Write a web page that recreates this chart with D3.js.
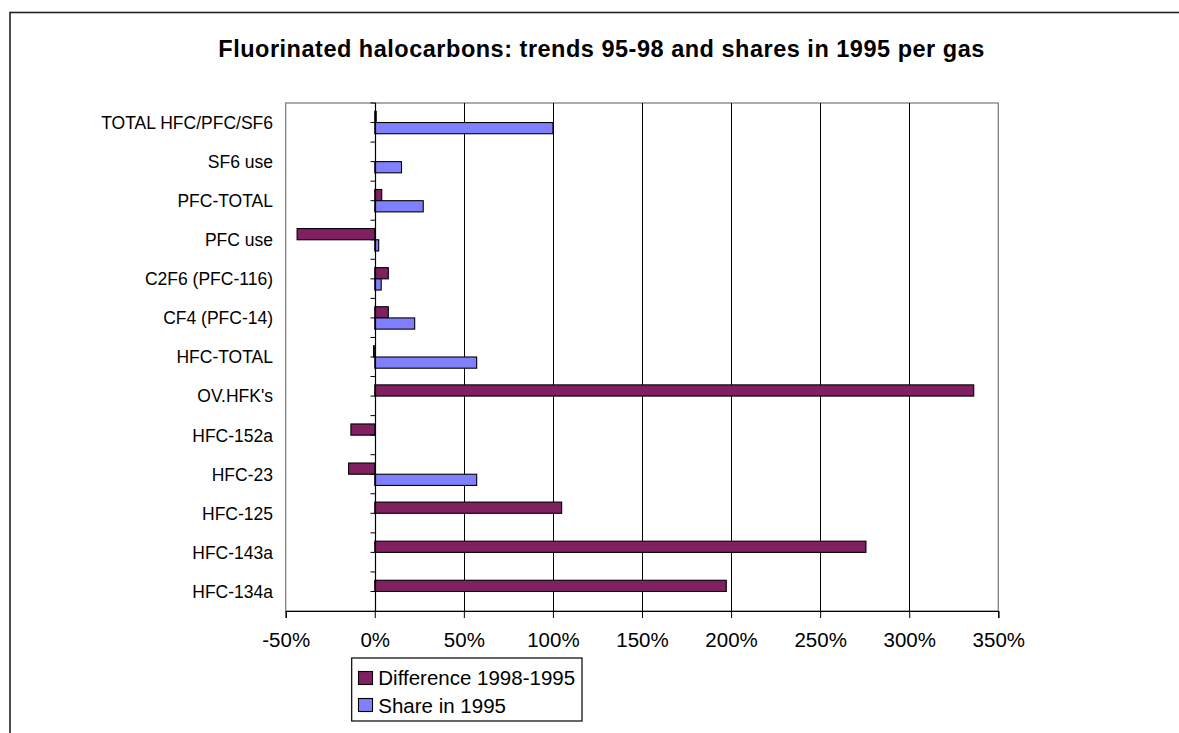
<!DOCTYPE html>
<html>
<head>
<meta charset="utf-8">
<script src="https://cdn.jsdelivr.net/npm/d3@7"></script>
<style>
  html, body { margin: 0; padding: 0; background: #fff; }
  svg { display: block; }
  text { font-family: "Liberation Sans", Arial, sans-serif; fill: #000; }
</style>
</head>
<body>
<svg id="chart" width="1179" height="733"></svg>
<script>
// ---- data ----
const categories = [
  "TOTAL HFC/PFC/SF6", "SF6 use", "PFC-TOTAL", "PFC use", "C2F6 (PFC-116)",
  "CF4 (PFC-14)", "HFC-TOTAL", "OV.HFK's", "HFC-152a", "HFC-23",
  "HFC-125", "HFC-143a", "HFC-134a"
];
const seriesNames = ["Difference 1998-1995", "Share in 1995"];
const difference = [0.008, null, 0.039, -0.436, 0.076, 0.076, -0.007, 3.362, -0.134, -0.147, 1.049, 2.757, 1.973];
const share      = [1.00, 0.150, 0.272, 0.022, 0.036, 0.224, 0.572, null, null, 0.572, null, null, null];
const xTicks = [-0.5, 0, 0.5, 1, 1.5, 2, 2.5, 3, 3.5];
const titleText = "Fluorinated halocarbons: trends 95-98 and shares in 1995 per gas";
const colors = ["#812060", "#8080FF"];

// ---- layout ----
const svg = d3.select("#chart");
const plot = { left: 285.7, right: 998.3, top: 103, bottom: 611 };

// outer frame
svg.append("rect")
  .attr("x", 10).attr("y", 12.5).attr("width", 1300).attr("height", 900)
  .attr("fill", "#fff").attr("stroke", "#222").attr("stroke-width", 1.6);

// title
svg.append("text")
  .attr("x", 601.3).attr("y", 57)
  .attr("text-anchor", "middle")
  .attr("font-size", 23.5).attr("font-weight", "bold")
  .attr("textLength", 766).attr("lengthAdjust", "spacing")
  .text(titleText);

const x = d3.scaleLinear().domain([-0.5, 3.5]).range([plot.left, plot.right]);
const y = d3.scaleBand().domain(categories).range([plot.top, plot.bottom]).padding(0);
const bw = y.bandwidth();
const ySub = d3.scaleBand().domain([0, 1]).range([bw / 2 - 11.2, bw / 2 + 11.2]).padding(0);

// plot area border (gray)
svg.append("rect")
  .attr("x", plot.left).attr("y", plot.top)
  .attr("width", plot.right - plot.left).attr("height", plot.bottom - plot.top)
  .attr("fill", "none").attr("stroke", "#808080").attr("stroke-width", 1.3);

// gridlines
svg.append("g").selectAll("line")
  .data(xTicks.filter(t => t > 0 && t < 3.5))
  .join("line")
  .attr("x1", d => Math.round(x(d)) + 0.5).attr("x2", d => Math.round(x(d)) + 0.5)
  .attr("y1", plot.top).attr("y2", plot.bottom)
  .attr("stroke", "#000").attr("stroke-width", 1);

// bars
const rows = categories.map((c, i) => ({ c, vals: [difference[i], share[i]] }));
const g = svg.append("g");
rows.forEach(r => {
  r.vals.forEach((v, k) => {
    if (v === null) return;
    const x0 = x(Math.min(0, v)), x1 = x(Math.max(0, v));
    g.append("rect")
      .attr("x", x0).attr("y", y(r.c) + ySub(k))
      .attr("width", Math.max(x1 - x0, 0.6)).attr("height", ySub.bandwidth())
      .attr("fill", colors[k]).attr("stroke", "#000").attr("stroke-width", 1.1);
  });
});

// x axis (bottom)
const xAxis = d3.axisBottom(x).tickValues(xTicks).tickSize(7).tickPadding(14)
  .tickFormat(d => Math.round(d * 100) + "%");
const xg = svg.append("g").attr("transform", `translate(0,${plot.bottom})`).call(xAxis);
xg.select(".domain").attr("stroke", "#000").attr("stroke-width", 1.2);
xg.selectAll(".tick line").attr("stroke", "#000").attr("stroke-width", 1);
xg.selectAll(".tick text")
  .attr("font-size", 20.5).attr("font-family", "'Liberation Sans', Arial, sans-serif")
  .attr("fill", "#000").attr("dy", "0.71em");

// category axis at zero
const zx = Math.round(x(0)) + 0.5;
svg.append("line")
  .attr("x1", zx).attr("x2", zx).attr("y1", plot.top).attr("y2", plot.bottom)
  .attr("stroke", "#000").attr("stroke-width", 1.2);
const halfTicks = d3.range(0, categories.length * 2).map(i => plot.top + i * bw / 2);
svg.append("g").selectAll("line").data(halfTicks).join("line")
  .attr("x1", zx - 5).attr("x2", zx).attr("y1", d => d).attr("y2", d => d)
  .attr("stroke", "#000").attr("stroke-width", 1);

// category labels
svg.append("g").selectAll("text").data(categories).join("text")
  .attr("x", 273).attr("y", d => y(d) + bw / 2 + 6.4)
  .attr("text-anchor", "end").attr("font-size", 17.5)
  .text(d => d);

// legend
const lg = svg.append("g");
lg.append("rect").attr("x", 351.7).attr("y", 658).attr("width", 230.3).attr("height", 63)
  .attr("fill", "#fff").attr("stroke", "#000").attr("stroke-width", 1.2);
seriesNames.forEach((s, k) => {
  lg.append("rect").attr("x", 358.5).attr("y", 671.5 + k * 27).attr("width", 14).attr("height", 13)
    .attr("fill", colors[k]).attr("stroke", "#000").attr("stroke-width", 1.1);
  lg.append("text").attr("x", 378.3).attr("y", 684.5 + k * 28.8)
    .attr("font-size", 20.5).text(s);
});
</script>
</body>
</html>
